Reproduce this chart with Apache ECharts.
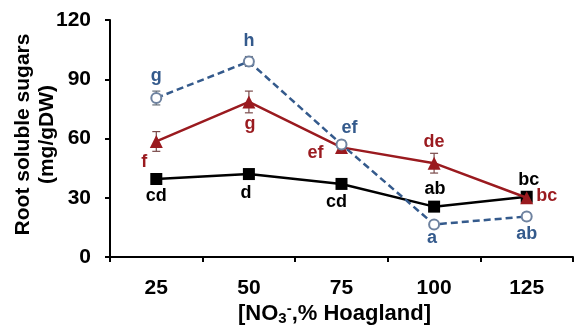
<!DOCTYPE html>
<html><head><meta charset="utf-8">
<script src="https://cdn.jsdelivr.net/npm/echarts@6/dist/echarts.min.js"></script>
<style>html,body{margin:0;padding:0;background:#fff}#c{width:575px;height:331px}</style>
</head><body><div id="c"></div>
<script>
const categories = ['25', '50', '75', '100', '125'];
const yTicks = [0, 30, 60, 90, 120];
const blackVals = [39.5, 42, 37, 25.5, 30.5];
const blackErr = [1.5, 2, 1.5, 1.5, 1.5];
const blackLetters = ['cd', 'd', 'cd', 'ab', 'bc'];
const redVals = [58.5, 78.5, 55.5, 47.5, 30];
const redErr = [5, 5.5, 3, 5, 2];
const redLetters = ['f', 'g', 'ef', 'de', 'bc'];
const blueVals = [80.5, 99, 57, 16.5, 20.5];
const blueErr = [3.5, 2.5, 2, 1, 2];
const blueLetters = ['g', 'h', 'ef', 'a', 'ab'];

const BLACK = '#000000', RED = '#9a1a1f', BLUE = '#345a8c';
const font = 'Arial, "Liberation Sans", sans-serif';

// label offsets (style, relative to point)
const blackOff = [[0, 17], [-3, 19], [-5, 18], [1, -18], [2, -17]];
const redOff = [[-12, 21], [1, 22], [-26, 6], [0, -21], [20, -2]];
const blueOff = [[0, -22], [0, -20], [8, -16], [-2, 14], [0, 18]];

function mkData(vals, letters, offs, color) {
  return vals.map((v, i) => ({
    value: v,
    label: { show: true, formatter: letters[i], position: 'inside', offset: offs[i],
      color: color, fontSize: 18, fontWeight: 'bold', fontFamily: font }
  }));
}
function errSeries(vals, errs, color) {
  return {
    type: 'custom', z: 5,
    data: vals.map((v, i) => [i, v, errs[i]]),
    renderItem: function (params, api) {
      const x = api.value(0), v = api.value(1), e = api.value(2);
      const p1 = api.coord([x, v + e]), p2 = api.coord([x, v - e]);
      const w = 4;
      const st = { stroke: color, lineWidth: 1.2 };
      return { type: 'group', children: [
        { type: 'line', shape: { x1: p1[0], y1: p1[1], x2: p2[0], y2: p2[1] }, style: st },
        { type: 'line', shape: { x1: p1[0] - w, y1: p1[1], x2: p1[0] + w, y2: p1[1] }, style: st },
        { type: 'line', shape: { x1: p2[0] - w, y1: p2[1], x2: p2[0] + w, y2: p2[1] }, style: st }
      ]};
    }
  };
}

const chart = echarts.init(document.getElementById('c'));
chart.setOption({
  animation: false,
  backgroundColor: '#fff',
  grid: { left: 110, right: 2, top: 20, bottom: 74, containLabel: false, outerBoundsMode: 'none' },
  xAxis: {
    type: 'category', data: categories, boundaryGap: true,
    axisLine: { lineStyle: { color: '#000', width: 2 } },
    axisTick: { show: true, length: 5, inside: false, lineStyle: { color: '#000', width: 2 } },
    axisLabel: { color: '#000', fontSize: 21, fontWeight: 'bold', fontFamily: font, margin: 21 },
    name: '[NO{sub|3}{sup|-},% Hoagland]', nameLocation: 'middle', nameGap: 44, nameMoveOverlap: false,
    nameTextStyle: { color: '#000', fontSize: 22, fontWeight: 'bold', fontFamily: font, padding: [0, 14, 0, 0],
      rich: { sub: { fontSize: 15, fontWeight: 'bold', color: '#000', fontFamily: font, padding: [10, 0, 0, 0] },
              sup: { fontSize: 15, fontWeight: 'bold', color: '#000', fontFamily: font, padding: [0, 0, 10, 0] } } }
  },
  yAxis: {
    type: 'value', min: 0, max: 120, interval: 30,
    axisLine: { show: true, lineStyle: { color: '#000', width: 2 } },
    axisTick: { show: true, length: 5, lineStyle: { color: '#000', width: 2 } },
    splitLine: { show: false },
    axisLabel: { color: '#000', fontSize: 21, fontWeight: 'bold', fontFamily: font, margin: 19,
      formatter: v => yTicks.includes(v) ? String(v) : '' },
    name: 'Root soluble sugars\n(mg/gDW)', nameLocation: 'middle', nameGap: 51, nameRotate: 90, nameMoveOverlap: false,
    nameTextStyle: { color: '#000', fontSize: 21, fontWeight: 'bold', fontFamily: font, lineHeight: 24, padding: [0, 0, 0, 8] }
  },
  series: [
    errSeries(blackVals, blackErr, '#333'),
    errSeries(redVals, redErr, '#7a4a4a'),
    errSeries(blueVals, blueErr, '#666f7a'),
    {
      type: 'line', data: mkData(blackVals, blackLetters, blackOff, BLACK), z: 6,
      symbol: 'rect', symbolSize: 12, itemStyle: { color: BLACK },
      lineStyle: { color: BLACK, width: 2.5 }
    },
    {
      type: 'line', data: mkData(redVals, redLetters, redOff, RED), z: 7,
      symbol: 'triangle', symbolSize: 13, itemStyle: { color: RED },
      lineStyle: { color: RED, width: 2.5 }
    },
    {
      type: 'line', data: mkData(blueVals, blueLetters, blueOff, BLUE), z: 8,
      symbol: 'emptyCircle', symbolSize: 10, itemStyle: { color: '#6f83a0', borderWidth: 1.2 },
      lineStyle: { color: BLUE, width: 2.5, type: [7, 4] }
    }
  ]
});
</script></body></html>
